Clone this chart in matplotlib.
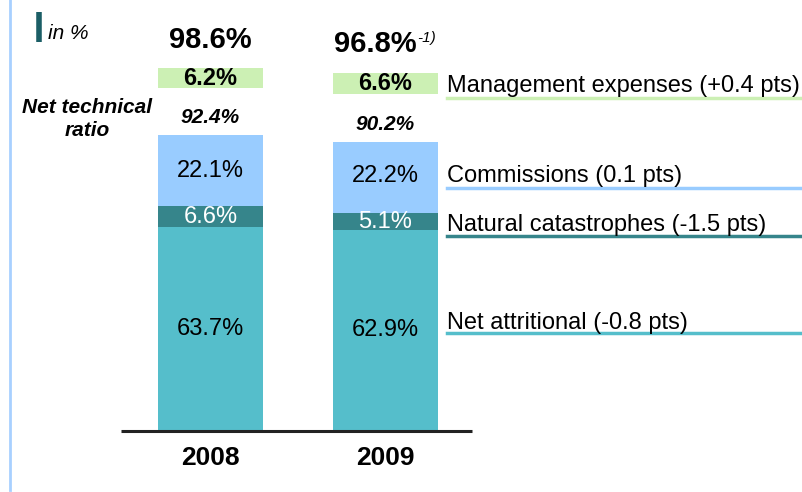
import numpy as np
import matplotlib
matplotlib.use('Agg')
import matplotlib.pyplot as plt
from matplotlib.lines import Line2D

plt.rcParams['font.family'] = ['Liberation Sans', 'DejaVu Sans']

# ── Data ──────────────────────────────────────────────────────────────────────
years = ['2008', '2009']
net_attritional = [63.7, 62.9]
nat_cat = [6.6, 5.1]
commissions = [22.1, 22.2]
mgmt_expenses = [6.2, 6.6]
net_technical = [92.4, 90.2]
combined = [98.6, 96.8]

labels_right = ['Management expenses (+0.4 pts)', 'Commissions (0.1 pts)',
                'Natural catastrophes (-1.5 pts)', 'Net attritional (-0.8 pts)']

C_ATTR = '#55BECB'
C_CAT = '#36858B'
C_COMM = '#99CCFF'
C_MGMT = '#CCF0B4'
C_DARK = '#1B5E66'

W, H = 802, 492
fig = plt.figure(figsize=(W / 100, H / 100), dpi=100)


def fx(x):
    return x / W


def fy(y):
    return 1 - y / H


# main axes: baseline at y=431 px, 3.2 px per percentage point
PX_PER_PCT = 3.2
ax_l, ax_r, ax_b = 121, 472, 431
ax = fig.add_axes([fx(ax_l), fy(ax_b), (ax_r - ax_l) / W, ax_b / H])
ax.set_ylim(0, ax_b / PX_PER_PCT)
ax.set_xlim(-(210.5 - ax_l) / 175, 1 + (ax_r - 385.5) / 175)
ax.axis('off')
ax.plot([0, 1], [0, 0], transform=ax.transAxes, color='#222222', lw=2.2,
        clip_on=False, solid_capstyle='butt')

x = np.arange(len(years))
bw = 0.6
a = np.array(net_attritional)
c = np.array(nat_cat)
m = np.array(commissions)
ax.bar(x, a, bw, color=C_ATTR)
ax.bar(x, c, bw, bottom=a, color=C_CAT)
ax.bar(x, m, bw, bottom=a + c, color=C_COMM)

# floating management-expense boxes
box_bottom = [107.2, 105.3]
ax.bar(x, mgmt_expenses, bw, bottom=box_bottom, color=C_MGMT)

for i in range(len(years)):
    ax.text(x[i], a[i] / 2, f'{net_attritional[i]:.1f}%', ha='center',
            va='center', fontsize=17)
    ax.text(x[i], a[i] + c[i] / 2, f'{nat_cat[i]:.1f}%', ha='center',
            va='center', fontsize=17, color='white')
    ax.text(x[i], a[i] + c[i] + m[i] / 2 + (0.6 if i else 0.0),
            f'{commissions[i]:.1f}%', ha='center', va='center', fontsize=17)
    top = a[i] + c[i] + m[i]
    ax.annotate(f'{net_technical[i]:.1f}%', (x[i], top), xytext=(0, 13),
                textcoords='offset points', ha='center', va='center',
                fontsize=15, fontweight='bold', fontstyle='italic')
    ax.text(x[i], box_bottom[i] + mgmt_expenses[i] / 2, f'{mgmt_expenses[i]:.1f}%',
            ha='center', va='center', fontsize=17, fontweight='bold')
    btop = box_bottom[i] + mgmt_expenses[i]
    ax.annotate(f'{combined[i]:.1f}%', (x[i] - (0.06 if i else 0), btop),
                xytext=(0, 20.5), textcoords='offset points', ha='center',
                va='center', fontsize=21, fontweight='bold', clip_on=False,
                annotation_clip=False)
    ax.annotate(years[i], (x[i], 0), xytext=(0, -19.5), textcoords='offset points',
                ha='center', va='center', fontsize=19, fontweight='bold',
                annotation_clip=False)

# superscript footnote marker on 2009 total
fig.text(fx(417), fy(38), '-1)', fontsize=11, fontstyle='italic', ha='left',
         va='center')

# ── Right-hand labels with coloured underlines ────────────────────────────────
lab_y = [92, 182, 231, 329]
line_y = [98, 188, 236, 333]
line_c = [C_MGMT, C_COMM, C_CAT, C_ATTR]
for lab, ty, ly, lc in zip(labels_right, lab_y, line_y, line_c):
    fig.text(fx(447), fy(ty), lab, fontsize=17, ha='left', va='baseline')
    fig.add_artist(Line2D([fx(447), 1.0], [fy(ly), fy(ly)], color=lc, lw=2.5,
                          transform=fig.transFigure))

# ── Left annotations ──────────────────────────────────────────────────────────
fig.add_artist(Line2D([fx(10), fx(10)], [fy(0), fy(490)], color='#A8D0FF',
                      lw=2, transform=fig.transFigure))
fig.add_artist(Line2D([fx(38.5), fx(38.5)], [fy(12), fy(42)], color=C_DARK,
                      lw=4, transform=fig.transFigure, solid_capstyle='butt'))
fig.text(fx(48), fy(33), 'in %', fontsize=15, fontstyle='italic', ha='left',
         va='center')
fig.text(fx(87), fy(119), 'Net technical\nratio', fontsize=15,
         fontweight='bold', fontstyle='italic', ha='center', va='center',
         linespacing=1.3)

fig.savefig('out.png', dpi=100)
